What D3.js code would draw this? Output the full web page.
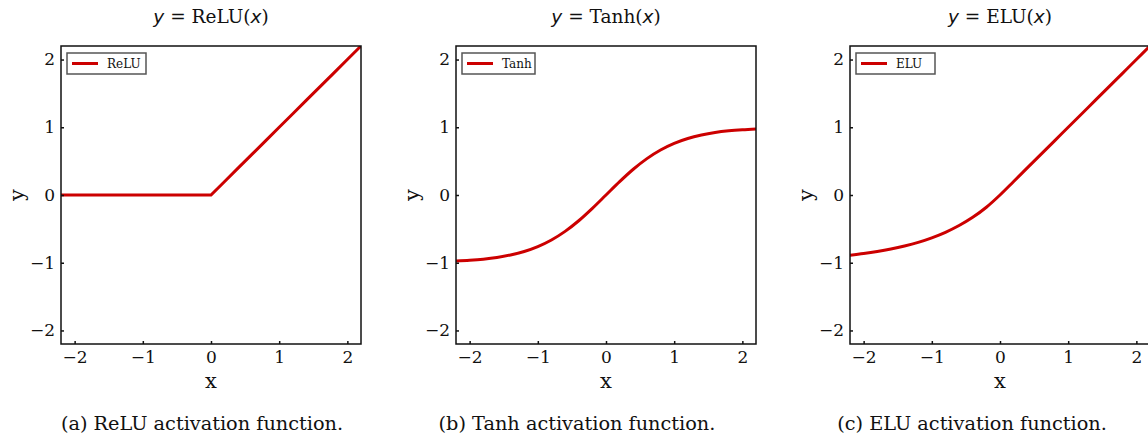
<!DOCTYPE html>
<html>
<head>
<meta charset="utf-8">
<script src="https://cdn.jsdelivr.net/npm/d3@7"></script>
<style>
  body { margin: 0; background: #fff; }
  text { font-family: "DejaVu Serif", serif; fill: #111; }
</style>
</head>
<body>
<div id="fig"></div>
<script>
// sampled x positions (shared by all three curves)
var xs = [-2.2, -2.0, -1.8, -1.6, -1.4, -1.2, -1.0, -0.8, -0.6, -0.4, -0.2, 0,
          0.2, 0.4, 0.6, 0.8, 1.0, 1.2, 1.4, 1.6, 1.8, 2.0, 2.2];

var reluValues = [0, 0, 0, 0, 0, 0, 0, 0, 0, 0, 0, 0,
                  0.2, 0.4, 0.6, 0.8, 1.0, 1.2, 1.4, 1.6, 1.8, 2.0, 2.2];

var tanhValues = [-0.976, -0.964, -0.947, -0.922, -0.885, -0.834, -0.762, -0.664, -0.537, -0.380, -0.197, 0,
                  0.197, 0.380, 0.537, 0.664, 0.762, 0.834, 0.885, 0.922, 0.947, 0.964, 0.976];

var eluValues = [-0.889, -0.865, -0.835, -0.798, -0.753, -0.699, -0.632, -0.551, -0.451, -0.330, -0.181, 0,
                 0.2, 0.4, 0.6, 0.8, 1.0, 1.2, 1.4, 1.6, 1.8, 2.0, 2.2];

var names = ["ReLU", "Tanh", "ELU"];
var captions = ["(a) ReLU activation function.", "(b) Tanh activation function.", "(c) ELU activation function."];
var tickValues = [-2, -1, 0, 1, 2];
var series = [reluValues, tanhValues, eluValues];

var W = 1148, H = 441;
var panelLeft = [61, 456, 850];
var pw = 300, ph = 298, plotTop = 46;
var captionX = [202, 577, 972];

var svg = d3.select("#fig").append("svg")
    .attr("width", W)
    .attr("height", H);

var x = d3.scaleLinear().domain([-2.2, 2.2]).range([0, pw]);
var y = d3.scaleLinear().domain([-2.2, 2.2]).range([ph, 0]);

// relu has a hard corner, the others are smooth
var curves = [d3.curveLinear, d3.curveMonotoneX, d3.curveMonotoneX];

names.forEach(function(name, i) {
  var g = svg.append("g")
      .attr("transform", "translate(" + panelLeft[i] + "," + plotTop + ")");

  // clip so the curves stay inside the frame
  g.append("clipPath").attr("id", "clip" + i)
    .append("rect").attr("width", pw).attr("height", ph);

  var data = xs.map(function(v, j) { return [v, series[i][j]]; });

  var line = d3.line()
      .x(function(d) { return x(d[0]); })
      .y(function(d) { return y(d[1]); })
      .curve(curves[i]);

  g.append("path")
    .datum(data)
    .attr("clip-path", "url(#clip" + i + ")")
    .attr("fill", "none")
    .attr("stroke", "#cc0000")
    .attr("stroke-width", 3)
    .attr("d", line);

  // frame
  g.append("rect")
    .attr("width", pw).attr("height", ph)
    .attr("fill", "none")
    .attr("stroke", "#111")
    .attr("stroke-width", 1.5);

  // axes with small inward ticks
  var fmt = d3.format("d");
  var xa = g.append("g")
      .attr("transform", "translate(0," + ph + ")")
      .call(d3.axisBottom(x).tickValues(tickValues).tickFormat(fmt).tickSize(-3).tickPadding(7));
  var ya = g.append("g")
      .call(d3.axisLeft(y).tickValues(tickValues).tickFormat(fmt).tickSize(-3).tickPadding(6));
  [xa, ya].forEach(function(a) {
    a.select(".domain").remove();
    a.selectAll(".tick line").attr("stroke", "#111").attr("stroke-width", 1.5);
    a.selectAll(".tick text")
      .style("font-family", "DejaVu Serif")
      .style("font-size", "17px")
      .attr("fill", "#111");
  });

  // axis labels
  g.append("text")
    .attr("x", pw / 2).attr("y", ph + 44)
    .attr("text-anchor", "middle")
    .style("font-size", "21px")
    .text("x");
  g.append("text")
    .attr("transform", "translate(-37," + (ph / 2) + ") rotate(-90)")
    .attr("text-anchor", "middle")
    .style("font-size", "21px")
    .text("y");

  // title
  var t = g.append("text")
    .attr("x", pw / 2).attr("y", -23)
    .attr("text-anchor", "middle")
    .style("font-size", "18.5px");
  t.append("tspan").style("font-family", "DejaVu Sans").style("font-style", "italic").text("y");
  t.append("tspan").text(" = " + name + "(");
  t.append("tspan").style("font-family", "DejaVu Sans").style("font-style", "italic").text("x");
  t.append("tspan").text(")");

  // legend
  var lg = g.append("g").attr("transform", "translate(6,7)");
  lg.append("rect")
    .attr("width", name === "Tanh" ? 73 : 79).attr("height", 21)
    .attr("fill", "#fff")
    .attr("stroke", "#555")
    .attr("stroke-width", 1.5);
  lg.append("line")
    .attr("x1", 5).attr("x2", 31)
    .attr("y1", 10.5).attr("y2", 10.5)
    .attr("stroke", "#cc0000")
    .attr("stroke-width", 3);
  lg.append("text")
    .attr("x", 40).attr("y", 15)
    .style("font-size", "12px")
    .text(name);

  // caption
  svg.append("text")
    .attr("x", captionX[i]).attr("y", 430)
    .attr("text-anchor", "middle")
    .style("font-size", "19.3px")
    .text(captions[i]);
});
</script>
</body>
</html>
